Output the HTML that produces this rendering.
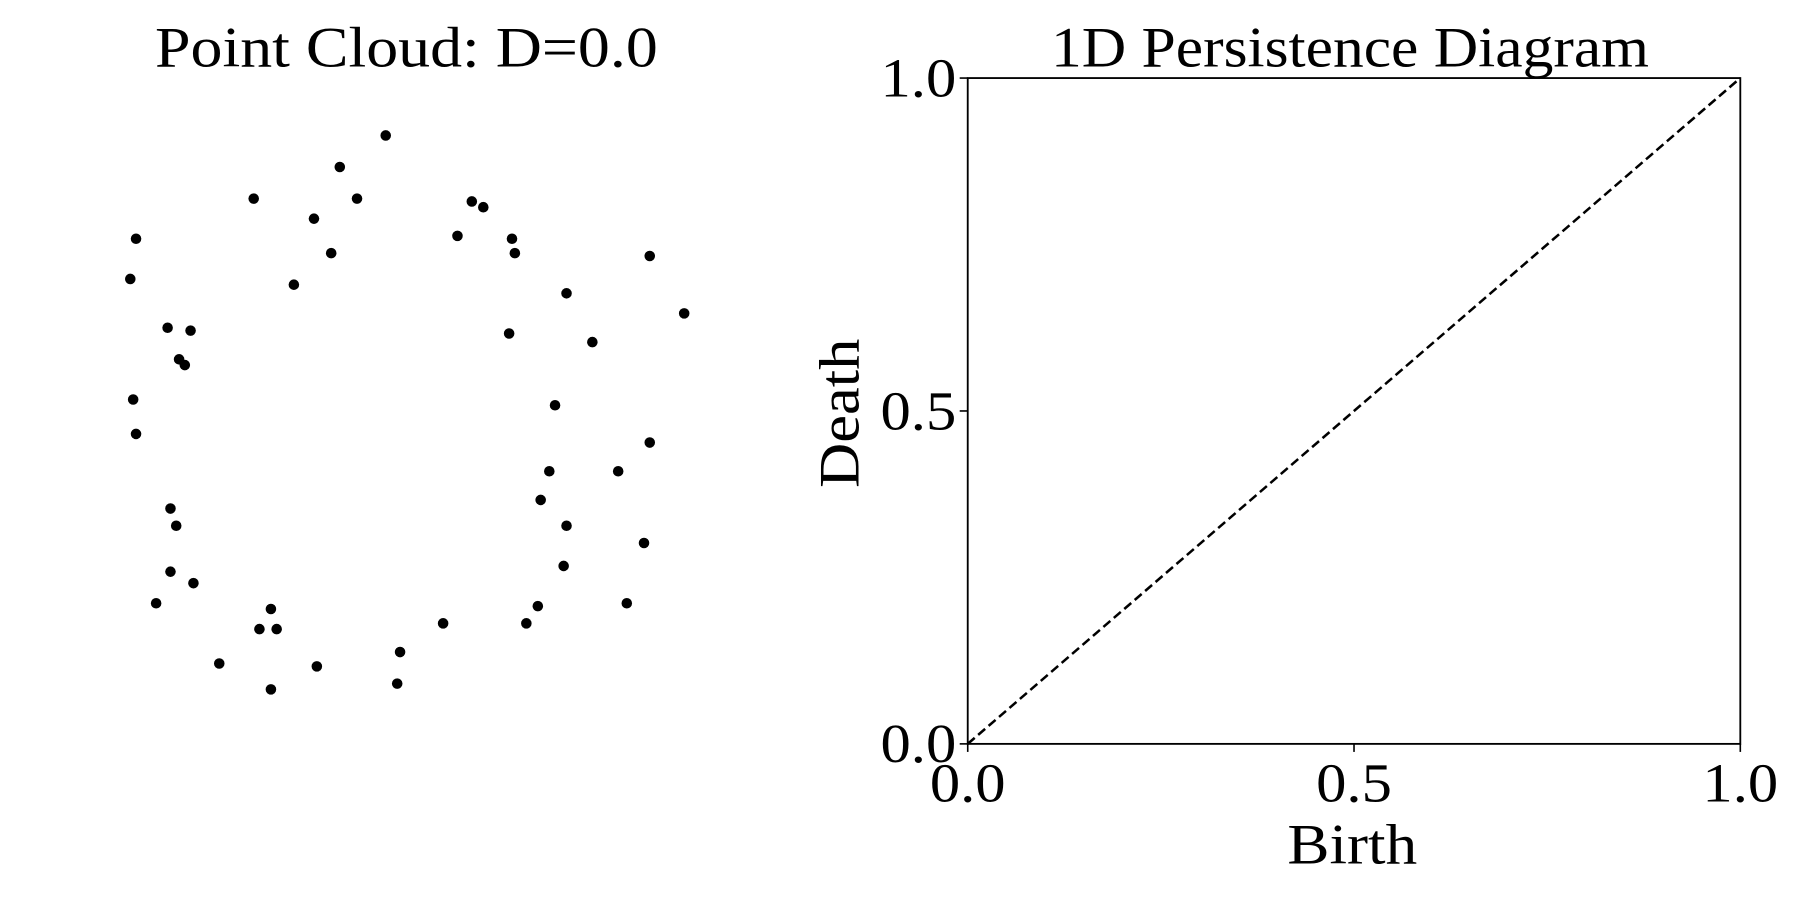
<!DOCTYPE html>
<html><head><meta charset="utf-8"><style>
html,body{margin:0;padding:0;background:#fff;width:1800px;height:900px;overflow:hidden}
svg{display:block;font-family:"Liberation Serif",serif}
</style></head><body>
<svg id="fig" width="1800" height="900" viewBox="0 0 1568 784">
<text x="354" y="58" font-size="50" text-anchor="middle" textLength="438" lengthAdjust="spacingAndGlyphs">Point Cloud: D=0.0</text>
<g id="cloud"></g>
<text x="1176" y="58" font-size="50" text-anchor="middle" textLength="521" lengthAdjust="spacingAndGlyphs">1D Persistence Diagram</text>
<g id="pd"></g>
<text x="1178" y="752" font-size="50" text-anchor="middle" textLength="113" lengthAdjust="spacingAndGlyphs">Birth</text>
<text transform="translate(748,360) rotate(-90)" font-size="50" text-anchor="middle" textLength="130" lengthAdjust="spacingAndGlyphs">Death</text>
</svg>
<script>
const cloudX=[-0.08,-0.24,-0.54,-0.18,-0.33,0.22,0.26,-0.95,0.17,0.36,0.37,-0.27,0.84,-0.97,-0.40,0.55,0.96,-0.84,-0.76,0.35,0.64,-0.80,-0.78,-0.96,0.51,-0.95,0.84,0.49,0.73,0.46,-0.83,-0.81,0.55,0.82,0.54,-0.83,-0.75,-0.88,0.76,0.45,-0.48,-0.52,-0.46,0.12,0.41,-0.03,-0.66,-0.32,-0.04,-0.48];
const cloudY=[0.96,0.85,0.74,0.74,0.67,0.73,0.71,0.60,0.61,0.60,0.55,0.55,0.54,0.46,0.44,0.41,0.34,0.29,0.28,0.27,0.24,0.18,0.16,0.04,0.02,-0.08,-0.11,-0.21,-0.21,-0.31,-0.34,-0.40,-0.40,-0.46,-0.54,-0.56,-0.60,-0.67,-0.67,-0.68,-0.69,-0.76,-0.76,-0.74,-0.74,-0.84,-0.88,-0.89,-0.95,-0.97];
const diagBirth=[0,1];
const diagDeath=[0,1];
const tickValues=[0,0.5,1];
const tickLabels=["0.0","0.5","1.0"];
const NS="http://www.w3.org/2000/svg";
function cx(v){return 356+250*v;}
function cy(v){return 358-250*v;}
const L=843,R=1516,T=68,B=648;
function px(v){return L+(R-L)*v;}
function py(v){return B-(B-T)*v;}
function mk(tag,attrs,parent){const e=document.createElementNS(NS,tag);for(const k in attrs)e.setAttribute(k,attrs[k]);parent.appendChild(e);return e;}
const cloud=document.getElementById('cloud');
for(let i=0;i<cloudX.length;i++){
  const c=mk('circle',{cx:cx(cloudX[i]),cy:cy(cloudY[i]),r:4.6,fill:'#000'},cloud);
  
  
}
const pd=document.getElementById('pd');
const frame=mk('rect',{x:L,y:T,width:R-L,height:B-T,fill:'none',stroke:'#000','stroke-width':1.6},pd);


const diag=mk('line',{x1:px(diagBirth[0]),y1:py(diagDeath[0]),x2:px(diagBirth[1]),y2:py(diagDeath[1]),stroke:'#000','stroke-width':2.2,'stroke-dasharray':'8,4'},pd);


for(let i=0;i<tickValues.length;i++){
  const v=tickValues[i];
  const xt=mk('line',{x1:px(v),y1:B,x2:px(v),y2:B+7,stroke:'#000','stroke-width':1.4},pd);
  
  
  const xl=mk('text',{x:px(v),y:B+50,'font-size':48,'text-anchor':'middle',textLength:66,lengthAdjust:'spacingAndGlyphs'},pd);
  xl.textContent=tickLabels[i];
  
  
  const yt=mk('line',{x1:L-7,y1:py(v),x2:L,y2:py(v),stroke:'#000','stroke-width':1.4},pd);
  
  
  const yl=mk('text',{x:L-10,y:py(v)+16,'font-size':48,'text-anchor':'end',textLength:66,lengthAdjust:'spacingAndGlyphs'},pd);
  yl.textContent=tickLabels[i];
  
  
}
</script>
</body></html>
